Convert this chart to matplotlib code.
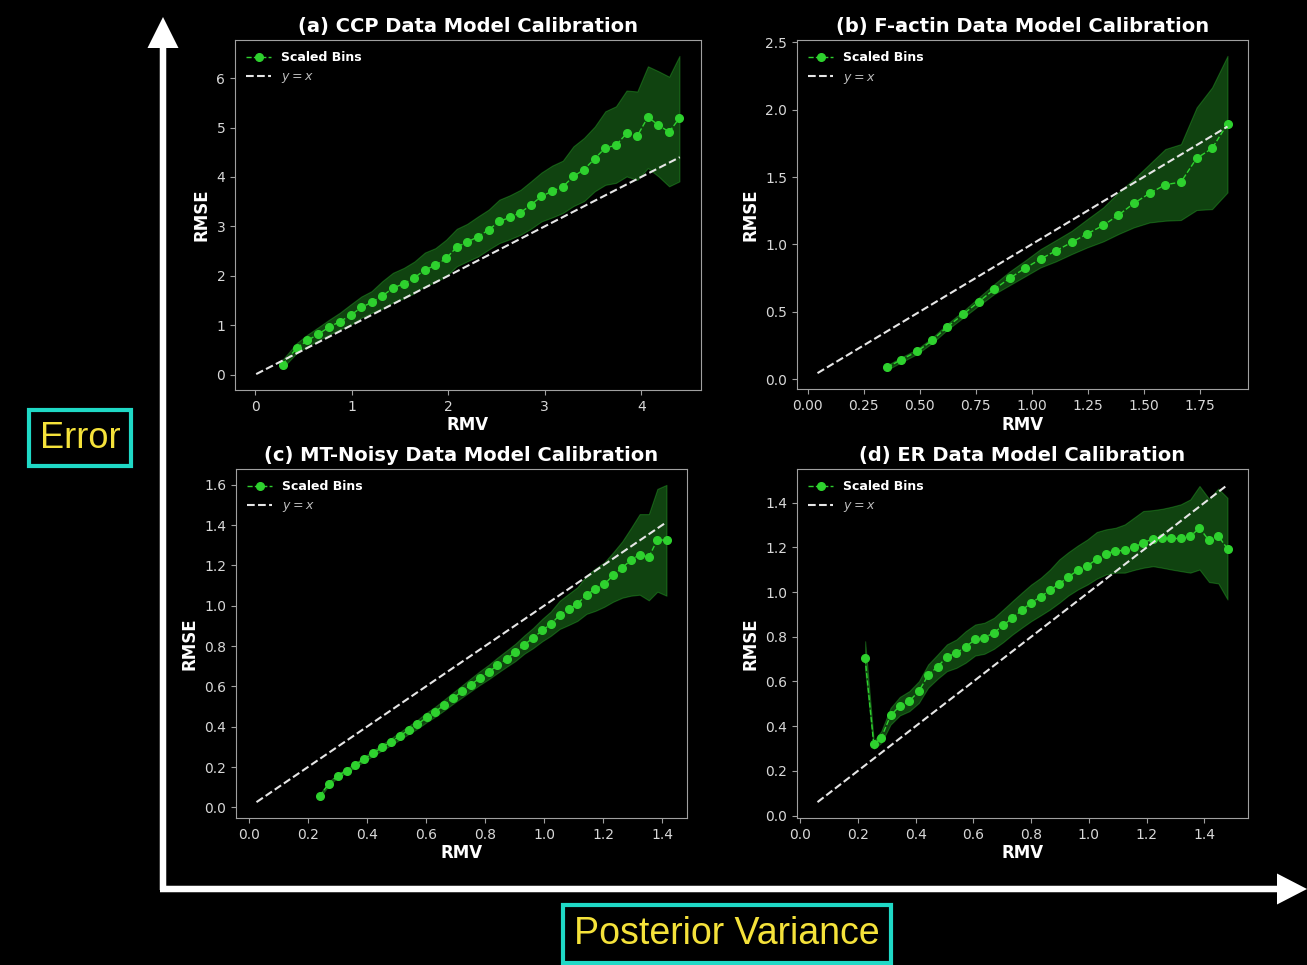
import numpy as np
import matplotlib
matplotlib.use("Agg")
import matplotlib.pyplot as plt
from matplotlib.patches import FancyArrow

# ---------------- data ----------------
titles = ["(a) CCP Data Model Calibration", "(b) F-actin Data Model Calibration",
          "(c) MT-Noisy Data Model Calibration", "(d) ER Data Model Calibration"]

a_rmv = [0.283, 0.431, 0.541, 0.655, 0.765, 0.875, 0.989, 1.099, 1.206, 1.316, 1.426, 1.540,
         1.650, 1.757, 1.867, 1.978, 2.088, 2.195, 2.308, 2.419, 2.529, 2.639, 2.749, 2.856,
         2.966, 3.077, 3.187, 3.297, 3.407, 3.518, 3.628, 3.738, 3.848, 3.959, 4.069, 4.179,
         4.289, 4.396]
a_rmse = [0.20, 0.54, 0.69, 0.82, 0.96, 1.07, 1.20, 1.36, 1.46, 1.59, 1.75, 1.84, 1.96, 2.12,
          2.21, 2.35, 2.58, 2.68, 2.79, 2.93, 3.10, 3.18, 3.28, 3.43, 3.61, 3.71, 3.80, 4.01,
          4.15, 4.37, 4.59, 4.64, 4.88, 4.83, 5.21, 5.05, 4.91, 5.19]
a_upper = [0.30, 0.64, 0.81, 0.96, 1.11, 1.25, 1.42, 1.58, 1.69, 1.89, 2.06, 2.16, 2.29, 2.47,
           2.56, 2.73, 2.95, 3.05, 3.20, 3.34, 3.54, 3.63, 3.74, 3.91, 4.09, 4.23, 4.33, 4.62,
           4.79, 5.02, 5.33, 5.43, 5.75, 5.73, 6.24, 6.14, 6.03, 6.45]
a_lower = [0.13, 0.44, 0.57, 0.69, 0.81, 0.91, 1.01, 1.15, 1.25, 1.33, 1.46, 1.54, 1.65, 1.79,
           1.87, 1.99, 2.19, 2.29, 2.39, 2.53, 2.66, 2.74, 2.83, 2.95, 3.10, 3.18, 3.27, 3.41,
           3.51, 3.71, 3.84, 3.88, 4.01, 3.94, 4.18, 4.01, 3.81, 3.91]
a_ref = [0.01, 4.40]

b_rmv = [0.356, 0.418, 0.489, 0.556, 0.624, 0.696, 0.764, 0.833, 0.903, 0.970, 1.040, 1.109,
         1.179, 1.249, 1.320, 1.388, 1.456, 1.527, 1.597, 1.667, 1.737, 1.806, 1.875]
b_rmse = [0.087, 0.144, 0.205, 0.287, 0.389, 0.483, 0.574, 0.666, 0.750, 0.822, 0.891, 0.953,
          1.015, 1.079, 1.141, 1.218, 1.304, 1.379, 1.443, 1.463, 1.639, 1.713, 1.894]
b_upper = [0.104, 0.161, 0.223, 0.307, 0.411, 0.507, 0.606, 0.705, 0.800, 0.879, 0.965, 1.032,
           1.101, 1.188, 1.275, 1.386, 1.485, 1.597, 1.708, 1.745, 2.017, 2.166, 2.400]
b_lower = [0.069, 0.124, 0.186, 0.267, 0.366, 0.458, 0.545, 0.631, 0.698, 0.762, 0.829, 0.874,
           0.928, 0.978, 1.022, 1.077, 1.126, 1.163, 1.176, 1.181, 1.255, 1.262, 1.386]
b_ref = [0.044, 1.875]

c_rmv = [0.240, 0.271, 0.301, 0.331, 0.361, 0.391, 0.421, 0.452, 0.481, 0.511, 0.542, 0.571,
         0.602, 0.632, 0.662, 0.692, 0.723, 0.752, 0.782, 0.813, 0.842, 0.873, 0.903, 0.933,
         0.963, 0.994, 1.023, 1.053, 1.084, 1.113, 1.144, 1.174, 1.204, 1.234, 1.265, 1.294,
         1.324, 1.355, 1.384, 1.415]
c_rmse = [0.056, 0.118, 0.157, 0.182, 0.210, 0.240, 0.268, 0.298, 0.325, 0.354, 0.384, 0.412,
          0.446, 0.475, 0.508, 0.542, 0.576, 0.608, 0.641, 0.672, 0.704, 0.737, 0.769, 0.807,
          0.840, 0.878, 0.909, 0.954, 0.982, 1.009, 1.055, 1.083, 1.106, 1.151, 1.189, 1.226,
          1.254, 1.241, 1.328, 1.325]
c_upper = [0.065, 0.127, 0.166, 0.192, 0.221, 0.252, 0.282, 0.313, 0.342, 0.373, 0.404, 0.434,
           0.470, 0.500, 0.535, 0.570, 0.606, 0.640, 0.675, 0.708, 0.743, 0.778, 0.812, 0.853,
           0.890, 0.935, 0.972, 1.025, 1.060, 1.092, 1.150, 1.185, 1.215, 1.265, 1.320, 1.385,
           1.455, 1.455, 1.580, 1.600]
c_lower = [0.047, 0.109, 0.148, 0.172, 0.199, 0.228, 0.255, 0.283, 0.308, 0.335, 0.364, 0.390,
           0.422, 0.450, 0.481, 0.514, 0.546, 0.576, 0.607, 0.636, 0.666, 0.697, 0.726, 0.762,
           0.790, 0.824, 0.851, 0.885, 0.905, 0.925, 0.960, 0.975, 0.995, 1.020, 1.040, 1.050,
           1.055, 1.027, 1.070, 1.050]
c_ref = [0.026, 1.415]

d_rmv = [0.225, 0.255, 0.281, 0.313, 0.345, 0.378, 0.411, 0.443, 0.476, 0.508, 0.541, 0.573,
         0.606, 0.638, 0.671, 0.703, 0.735, 0.767, 0.800, 0.833, 0.865, 0.897, 0.929, 0.962,
         0.995, 1.027, 1.059, 1.092, 1.124, 1.156, 1.188, 1.222, 1.254, 1.286, 1.318, 1.351,
         1.383, 1.416, 1.448, 1.480]
d_rmse = [0.703, 0.318, 0.348, 0.448, 0.490, 0.512, 0.557, 0.627, 0.667, 0.709, 0.728, 0.755,
          0.788, 0.796, 0.818, 0.851, 0.885, 0.918, 0.952, 0.979, 1.009, 1.036, 1.069, 1.097,
          1.119, 1.146, 1.172, 1.184, 1.187, 1.200, 1.221, 1.239, 1.240, 1.240, 1.240, 1.249,
          1.287, 1.231, 1.251, 1.194]
d_upper = [0.780, 0.333, 0.378, 0.482, 0.531, 0.557, 0.601, 0.676, 0.721, 0.766, 0.788, 0.825,
           0.855, 0.863, 0.885, 0.922, 0.960, 0.997, 1.034, 1.064, 1.101, 1.146, 1.179, 1.209,
           1.236, 1.269, 1.281, 1.288, 1.303, 1.333, 1.363, 1.367, 1.373, 1.382, 1.393, 1.415,
           1.475, 1.418, 1.463, 1.422]
d_lower = [0.650, 0.299, 0.325, 0.407, 0.448, 0.467, 0.504, 0.572, 0.612, 0.646, 0.661, 0.684,
           0.716, 0.724, 0.746, 0.776, 0.810, 0.840, 0.870, 0.896, 0.922, 0.952, 0.985, 1.012,
           1.034, 1.060, 1.079, 1.087, 1.087, 1.099, 1.109, 1.116, 1.109, 1.101, 1.094, 1.087,
           1.101, 1.045, 1.039, 0.967]
d_ref = [0.060, 1.480]

panels = [
    (a_rmv, a_rmse, a_lower, a_upper, a_ref),
    (b_rmv, b_rmse, b_lower, b_upper, b_ref),
    (c_rmv, c_rmse, c_lower, c_upper, c_ref),
    (d_rmv, d_rmse, d_lower, d_upper, d_ref),
]

# ---------------- layout ----------------
W, H = 1307, 965
fig = plt.figure(figsize=(W / 100, H / 100), dpi=100, facecolor="black")

# background overlay for arrows and labels (pixel coordinates)
ov = fig.add_axes([0, 0, 1, 1], zorder=0)
ov.set_xlim(0, W)
ov.set_ylim(H, 0)
ov.axis("off")
ov.set_facecolor("black")
ov.add_patch(FancyArrow(163, 890, 0, -842, width=6.5, head_width=31, head_length=31,
                        length_includes_head=False, color="white", lw=0))
ov.add_patch(FancyArrow(160, 889, 1117, 0, width=6.5, head_width=31, head_length=30,
                        length_includes_head=False, color="white", lw=0))
box = dict(boxstyle="square,pad=0.3", facecolor="black", edgecolor="#1fd9c6", linewidth=3)
ov.text(80, 438, "Error", fontsize=26, family="Liberation Sans", color="#f5e23a",
        ha="center", va="center", bbox=box)
ov.text(727, 934, "Posterior Variance", fontsize=27, family="Liberation Sans",
        color="#f5e23a", ha="center", va="center", bbox=box)

rects = [(235, 40, 701, 390), (797, 40, 1248, 389), (236, 469, 687, 818), (797, 469, 1248, 818)]

green = "#2ed12e"
for (x0, y0, x1, y1), title, (rmv, rmse, lo, up, ref) in zip(rects, titles, panels):
    ax = fig.add_axes([x0 / W, 1 - y1 / H, (x1 - x0) / W, (y1 - y0) / H], zorder=2)
    ax.set_facecolor("black")
    ax.fill_between(rmv, lo, up, color="#32cd32", alpha=0.33, lw=0.8)
    ax.plot(rmv, rmse, "--o", color=green, lw=1.0, markersize=5.5, label="Scaled Bins")
    ax.plot(ref, ref, "--", color="#e6e6e6", lw=1.5, label="$y = x$")
    ax.set_title(title, color="white", fontsize=14, fontweight="bold")
    ax.set_xlabel("RMV", color="white", fontsize=12, fontweight="bold", labelpad=2)
    ax.set_ylabel("RMSE", color="white", fontsize=12, fontweight="bold")
    for s in ax.spines.values():
        s.set_color("#a0a0a0")
    ax.tick_params(colors="#a0a0a0", labelcolor="#d8d8d8", labelsize=10)
    leg = ax.legend(loc="upper left", frameon=False, prop={"size": 9, "weight": "bold"})
    for t in leg.get_texts():
        t.set_color("white")
    leg.get_texts()[1].set_color("#bdbdbd")

fig.savefig("out.png", dpi=100, facecolor="black")
